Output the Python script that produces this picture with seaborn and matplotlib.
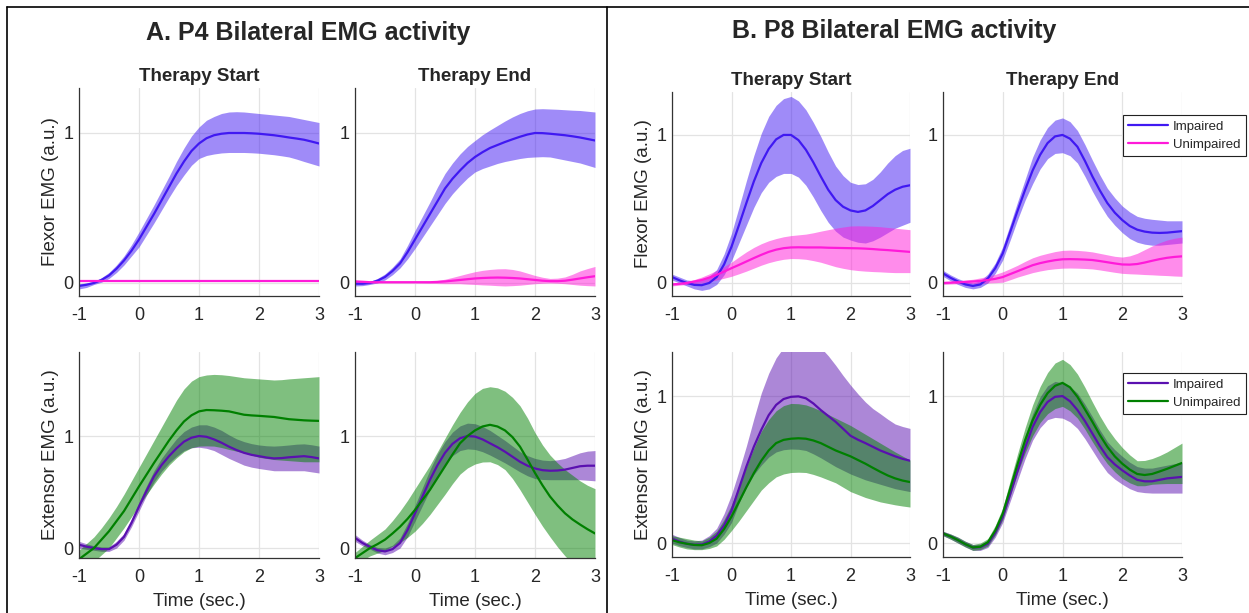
import numpy as np
import matplotlib
matplotlib.use("Agg")
import matplotlib.pyplot as plt
from matplotlib.lines import Line2D
import seaborn as sns

# time axis (sec.), read every 0.125 s
t = [-1, -0.875, -0.75, -0.625, -0.5, -0.375, -0.25, -0.125, 0, 0.125, 0.25, 0.375, 0.5, 0.625, 0.75, 0.875,
     1, 1.125, 1.25, 1.375, 1.5, 1.625, 1.75, 1.875, 2, 2.125, 2.25, 2.375, 2.5, 2.625, 2.75, 2.875, 3]

# ---- P4 flexor, therapy start
p4_flex_start_imp = [-0.02, -0.012, 0.0, 0.02, 0.05, 0.095, 0.15, 0.215, 0.29, 0.375, 0.46, 0.55, 0.64, 0.73, 0.81, 0.88, 0.93, 0.965, 0.985, 0.995, 1.0, 1.0, 1.0, 0.998, 0.995, 0.99, 0.985, 0.978, 0.97, 0.963, 0.955, 0.943, 0.93]
p4_flex_start_imp_lo = [-0.04, -0.03, -0.01, 0.005, 0.03, 0.07, 0.12, 0.18, 0.24, 0.32, 0.40, 0.485, 0.57, 0.65, 0.72, 0.785, 0.83, 0.85, 0.86, 0.867, 0.87, 0.87, 0.87, 0.868, 0.865, 0.86, 0.855, 0.848, 0.84, 0.826, 0.81, 0.795, 0.78]
p4_flex_start_imp_hi = [-0.005, 0.0, 0.01, 0.035, 0.07, 0.12, 0.18, 0.255, 0.34, 0.43, 0.52, 0.615, 0.71, 0.81, 0.90, 0.98, 1.04, 1.085, 1.11, 1.13, 1.14, 1.142, 1.14, 1.135, 1.13, 1.125, 1.12, 1.115, 1.11, 1.10, 1.09, 1.08, 1.07]
p4_flex_start_uni = [0.01, 0.01, 0.01, 0.01, 0.01, 0.01, 0.01, 0.01, 0.01, 0.01, 0.01, 0.01, 0.01, 0.01, 0.01, 0.01, 0.01, 0.01, 0.01, 0.01, 0.01, 0.01, 0.01, 0.01, 0.01, 0.01, 0.01, 0.01, 0.01, 0.01, 0.01, 0.01, 0.01]
p4_flex_start_uni_lo = [0.006, 0.006, 0.006, 0.006, 0.006, 0.006, 0.006, 0.006, 0.006, 0.006, 0.006, 0.006, 0.006, 0.006, 0.006, 0.006, 0.006, 0.006, 0.006, 0.006, 0.006, 0.006, 0.006, 0.006, 0.006, 0.006, 0.006, 0.006, 0.006, 0.006, 0.006, 0.006, 0.006]
p4_flex_start_uni_hi = [0.014, 0.014, 0.014, 0.014, 0.014, 0.014, 0.014, 0.014, 0.014, 0.014, 0.014, 0.014, 0.014, 0.014, 0.014, 0.014, 0.014, 0.014, 0.014, 0.014, 0.014, 0.014, 0.014, 0.014, 0.014, 0.014, 0.014, 0.014, 0.014, 0.014, 0.014, 0.014, 0.014]

# ---- P4 flexor, therapy end
p4_flex_end_imp = [-0.005, -0.005, 0.0, 0.015, 0.04, 0.08, 0.13, 0.205, 0.29, 0.375, 0.46, 0.545, 0.63, 0.695, 0.75, 0.80, 0.84, 0.872, 0.90, 0.92, 0.94, 0.958, 0.975, 0.99, 1.0, 0.999, 0.995, 0.99, 0.985, 0.978, 0.97, 0.96, 0.95]
p4_flex_end_imp_lo = [-0.02, -0.018, -0.01, 0.0, 0.02, 0.055, 0.10, 0.16, 0.23, 0.305, 0.38, 0.455, 0.53, 0.595, 0.65, 0.70, 0.74, 0.763, 0.78, 0.797, 0.81, 0.82, 0.83, 0.837, 0.84, 0.842, 0.84, 0.83, 0.82, 0.81, 0.80, 0.785, 0.77]
p4_flex_end_imp_hi = [0.01, 0.008, 0.01, 0.03, 0.06, 0.105, 0.16, 0.25, 0.35, 0.445, 0.54, 0.64, 0.73, 0.80, 0.86, 0.91, 0.95, 0.988, 1.02, 1.05, 1.08, 1.107, 1.13, 1.148, 1.16, 1.162, 1.16, 1.158, 1.155, 1.152, 1.15, 1.145, 1.14]
p4_flex_end_uni = [0.01, 0.008, 0.005, 0.005, 0.005, 0.005, 0.005, 0.005, 0.005, 0.005, 0.005, 0.007, 0.01, 0.015, 0.02, 0.025, 0.03, 0.033, 0.035, 0.036, 0.035, 0.033, 0.03, 0.025, 0.02, 0.015, 0.012, 0.012, 0.015, 0.022, 0.03, 0.038, 0.045]
p4_flex_end_uni_lo = [0.0, 0.0, 0.0, 0.0, 0.0, 0.0, 0.0, 0.0, 0.0, -0.001, -0.002, -0.004, -0.005, -0.005, -0.005, -0.008, -0.01, -0.013, -0.015, -0.018, -0.02, -0.018, -0.015, -0.01, -0.005, -0.002, 0.0, -0.002, -0.005, -0.01, -0.015, -0.018, -0.02]
p4_flex_end_uni_hi = [0.02, 0.015, 0.01, 0.01, 0.01, 0.01, 0.01, 0.01, 0.01, 0.011, 0.012, 0.017, 0.025, 0.037, 0.05, 0.063, 0.075, 0.084, 0.09, 0.094, 0.095, 0.09, 0.08, 0.065, 0.05, 0.038, 0.03, 0.032, 0.04, 0.058, 0.08, 0.096, 0.11]

# ---- P4 extensor, therapy start
p4_ext_start_imp = [0.03, 0.012, 0.0, -0.01, -0.01, 0.03, 0.10, 0.225, 0.37, 0.51, 0.64, 0.74, 0.82, 0.89, 0.95, 0.985, 1.0, 0.993, 0.97, 0.94, 0.905, 0.875, 0.85, 0.832, 0.82, 0.808, 0.80, 0.803, 0.81, 0.815, 0.82, 0.812, 0.80]
p4_ext_start_imp_lo = [0.0, -0.012, -0.02, -0.03, -0.03, 0.0, 0.07, 0.19, 0.33, 0.47, 0.59, 0.685, 0.76, 0.82, 0.87, 0.895, 0.90, 0.89, 0.87, 0.835, 0.80, 0.77, 0.74, 0.722, 0.71, 0.70, 0.69, 0.69, 0.69, 0.69, 0.69, 0.68, 0.67]
p4_ext_start_imp_hi = [0.06, 0.038, 0.02, 0.01, 0.01, 0.06, 0.13, 0.26, 0.41, 0.555, 0.69, 0.80, 0.89, 0.975, 1.04, 1.08, 1.10, 1.10, 1.08, 1.05, 1.01, 0.975, 0.95, 0.932, 0.92, 0.913, 0.91, 0.914, 0.92, 0.927, 0.93, 0.922, 0.91]
p4_ext_start_uni = [-0.10, -0.05, 0.0, 0.075, 0.15, 0.24, 0.33, 0.44, 0.55, 0.655, 0.76, 0.86, 0.96, 1.05, 1.13, 1.185, 1.22, 1.232, 1.23, 1.226, 1.22, 1.205, 1.19, 1.184, 1.18, 1.175, 1.17, 1.16, 1.15, 1.145, 1.14, 1.137, 1.135]
p4_ext_start_uni_lo = [-0.25, -0.185, -0.12, -0.06, 0.0, 0.09, 0.18, 0.28, 0.38, 0.475, 0.57, 0.66, 0.74, 0.805, 0.86, 0.895, 0.91, 0.912, 0.91, 0.897, 0.88, 0.865, 0.85, 0.83, 0.81, 0.80, 0.79, 0.785, 0.78, 0.775, 0.77, 0.77, 0.77]
p4_ext_start_uni_hi = [-0.02, 0.04, 0.10, 0.18, 0.27, 0.37, 0.48, 0.60, 0.72, 0.84, 0.96, 1.08, 1.20, 1.32, 1.42, 1.49, 1.53, 1.545, 1.55, 1.547, 1.54, 1.53, 1.52, 1.515, 1.51, 1.505, 1.50, 1.503, 1.51, 1.515, 1.52, 1.525, 1.53]

# ---- P4 extensor, therapy end
p4_ext_end_imp = [0.09, 0.045, 0.01, -0.02, -0.03, -0.01, 0.045, 0.16, 0.31, 0.46, 0.61, 0.74, 0.85, 0.93, 0.98, 1.0, 0.995, 0.97, 0.935, 0.9, 0.86, 0.815, 0.77, 0.735, 0.71, 0.695, 0.69, 0.692, 0.70, 0.715, 0.73, 0.735, 0.735]
p4_ext_end_imp_lo = [0.06, 0.02, -0.01, -0.045, -0.06, -0.04, 0.0, 0.1, 0.24, 0.38, 0.52, 0.645, 0.75, 0.825, 0.87, 0.885, 0.88, 0.86, 0.83, 0.795, 0.76, 0.72, 0.68, 0.645, 0.62, 0.612, 0.61, 0.61, 0.61, 0.61, 0.61, 0.605, 0.60]
p4_ext_end_imp_hi = [0.12, 0.07, 0.03, 0.005, 0.0, 0.025, 0.09, 0.22, 0.38, 0.54, 0.70, 0.84, 0.95, 1.035, 1.09, 1.115, 1.11, 1.085, 1.05, 1.005, 0.96, 0.91, 0.86, 0.825, 0.80, 0.785, 0.78, 0.787, 0.80, 0.825, 0.85, 0.865, 0.87]
p4_ext_end_uni = [-0.09, -0.045, 0.0, 0.035, 0.075, 0.13, 0.19, 0.26, 0.34, 0.43, 0.52, 0.625, 0.73, 0.835, 0.935, 1.0, 1.05, 1.085, 1.10, 1.085, 1.05, 0.99, 0.905, 0.79, 0.67, 0.56, 0.46, 0.38, 0.31, 0.255, 0.21, 0.168, 0.13]
p4_ext_end_uni_lo = [-0.15, -0.11, -0.07, -0.045, -0.02, 0.015, 0.05, 0.095, 0.15, 0.22, 0.30, 0.39, 0.48, 0.575, 0.66, 0.715, 0.75, 0.768, 0.77, 0.745, 0.70, 0.62, 0.52, 0.41, 0.30, 0.195, 0.10, 0.01, -0.07, -0.14, -0.20, -0.25, -0.30]
p4_ext_end_uni_hi = [-0.04, 0.015, 0.07, 0.12, 0.17, 0.245, 0.33, 0.425, 0.53, 0.635, 0.74, 0.86, 0.98, 1.10, 1.21, 1.305, 1.38, 1.425, 1.44, 1.43, 1.40, 1.345, 1.27, 1.16, 1.03, 0.92, 0.83, 0.76, 0.70, 0.65, 0.60, 0.56, 0.53]

# ---- P8 flexor, therapy start
p8_flex_start_imp = [0.04, 0.018, 0.0, -0.013, -0.015, 0.0, 0.04, 0.125, 0.245, 0.39, 0.54, 0.685, 0.81, 0.905, 0.97, 1.0, 1.0, 0.965, 0.90, 0.815, 0.72, 0.63, 0.56, 0.515, 0.49, 0.48, 0.49, 0.52, 0.56, 0.6, 0.63, 0.65, 0.66]
p8_flex_start_imp_lo = [0.02, 0.0, -0.02, -0.04, -0.05, -0.04, -0.01, 0.055, 0.15, 0.27, 0.39, 0.51, 0.61, 0.68, 0.72, 0.74, 0.74, 0.715, 0.66, 0.58, 0.49, 0.41, 0.35, 0.31, 0.29, 0.275, 0.27, 0.285, 0.31, 0.34, 0.37, 0.39, 0.41]
p8_flex_start_imp_hi = [0.06, 0.04, 0.02, 0.015, 0.02, 0.045, 0.09, 0.195, 0.335, 0.51, 0.69, 0.86, 1.01, 1.125, 1.20, 1.245, 1.26, 1.23, 1.17, 1.085, 0.99, 0.885, 0.79, 0.725, 0.68, 0.665, 0.67, 0.70, 0.75, 0.81, 0.86, 0.895, 0.91]
p8_flex_start_uni = [-0.01, -0.006, 0.0, 0.01, 0.02, 0.036, 0.055, 0.077, 0.10, 0.122, 0.145, 0.168, 0.19, 0.21, 0.225, 0.235, 0.24, 0.241, 0.24, 0.24, 0.24, 0.238, 0.237, 0.236, 0.235, 0.234, 0.232, 0.229, 0.225, 0.222, 0.218, 0.214, 0.21]
p8_flex_start_uni_lo = [-0.02, -0.015, -0.01, -0.005, 0.0, 0.01, 0.02, 0.032, 0.045, 0.062, 0.08, 0.1, 0.12, 0.137, 0.15, 0.16, 0.165, 0.164, 0.16, 0.151, 0.14, 0.125, 0.11, 0.099, 0.09, 0.084, 0.08, 0.077, 0.075, 0.072, 0.07, 0.07, 0.07]
p8_flex_start_uni_hi = [0.0, 0.004, 0.01, 0.023, 0.04, 0.061, 0.085, 0.111, 0.14, 0.176, 0.21, 0.24, 0.265, 0.285, 0.30, 0.312, 0.32, 0.325, 0.33, 0.339, 0.35, 0.36, 0.37, 0.378, 0.385, 0.386, 0.385, 0.383, 0.38, 0.375, 0.37, 0.365, 0.36]

# ---- P8 flexor, therapy end
p8_flex_end_imp = [0.065, 0.035, 0.01, -0.01, -0.02, -0.01, 0.03, 0.1, 0.20, 0.345, 0.49, 0.63, 0.76, 0.865, 0.945, 0.99, 1.0, 0.975, 0.92, 0.825, 0.72, 0.625, 0.54, 0.475, 0.425, 0.385, 0.36, 0.347, 0.34, 0.338, 0.34, 0.345, 0.35]
p8_flex_end_imp_lo = [0.045, 0.015, -0.01, -0.03, -0.04, -0.03, 0.0, 0.065, 0.155, 0.29, 0.43, 0.56, 0.67, 0.77, 0.84, 0.875, 0.88, 0.86, 0.81, 0.72, 0.62, 0.53, 0.45, 0.39, 0.34, 0.3, 0.275, 0.262, 0.255, 0.255, 0.26, 0.265, 0.27]
p8_flex_end_imp_hi = [0.085, 0.055, 0.03, 0.01, 0.0, 0.015, 0.06, 0.135, 0.245, 0.395, 0.55, 0.70, 0.85, 0.965, 1.05, 1.1, 1.115, 1.09, 1.03, 0.935, 0.83, 0.73, 0.64, 0.575, 0.52, 0.48, 0.45, 0.437, 0.43, 0.425, 0.42, 0.42, 0.42]
p8_flex_end_uni = [0.0, 0.002, 0.005, 0.007, 0.01, 0.014, 0.02, 0.028, 0.04, 0.06, 0.08, 0.1, 0.12, 0.134, 0.145, 0.154, 0.16, 0.161, 0.16, 0.158, 0.155, 0.148, 0.14, 0.132, 0.125, 0.124, 0.128, 0.138, 0.15, 0.161, 0.17, 0.176, 0.18]
p8_flex_end_uni_lo = [-0.01, -0.007, -0.005, -0.005, -0.005, -0.003, 0.0, 0.002, 0.005, 0.022, 0.04, 0.055, 0.07, 0.081, 0.09, 0.096, 0.10, 0.101, 0.10, 0.098, 0.095, 0.088, 0.08, 0.072, 0.065, 0.062, 0.06, 0.057, 0.055, 0.052, 0.05, 0.047, 0.045]
p8_flex_end_uni_hi = [0.01, 0.012, 0.015, 0.02, 0.025, 0.034, 0.045, 0.058, 0.075, 0.097, 0.12, 0.146, 0.17, 0.187, 0.20, 0.212, 0.22, 0.222, 0.22, 0.216, 0.21, 0.20, 0.19, 0.18, 0.175, 0.183, 0.20, 0.225, 0.25, 0.272, 0.29, 0.302, 0.31]

# ---- P8 extensor, therapy start
p8_ext_start_imp = [0.03, 0.01, -0.005, -0.012, -0.01, 0.01, 0.05, 0.12, 0.22, 0.37, 0.52, 0.655, 0.77, 0.87, 0.94, 0.98, 0.995, 0.998, 0.985, 0.95, 0.905, 0.865, 0.825, 0.778, 0.73, 0.703, 0.68, 0.655, 0.63, 0.61, 0.59, 0.573, 0.56]
p8_ext_start_imp_lo = [0.0, -0.018, -0.03, -0.04, -0.04, -0.025, 0.0, 0.06, 0.14, 0.27, 0.38, 0.465, 0.53, 0.585, 0.62, 0.635, 0.64, 0.638, 0.63, 0.607, 0.58, 0.55, 0.52, 0.495, 0.47, 0.45, 0.43, 0.415, 0.40, 0.385, 0.37, 0.36, 0.35]
p8_ext_start_imp_hi = [0.06, 0.038, 0.02, 0.015, 0.02, 0.05, 0.10, 0.2, 0.33, 0.49, 0.66, 0.845, 1.02, 1.155, 1.26, 1.33, 1.37, 1.39, 1.40, 1.375, 1.33, 1.275, 1.21, 1.14, 1.075, 1.015, 0.96, 0.915, 0.88, 0.843, 0.81, 0.793, 0.78]
p8_ext_start_uni = [0.02, 0.005, -0.005, -0.013, -0.015, 0.0, 0.03, 0.095, 0.18, 0.28, 0.38, 0.475, 0.56, 0.63, 0.68, 0.702, 0.71, 0.713, 0.71, 0.698, 0.68, 0.655, 0.63, 0.61, 0.59, 0.565, 0.54, 0.512, 0.485, 0.46, 0.44, 0.425, 0.415]
p8_ext_start_uni_lo = [-0.01, -0.027, -0.04, -0.045, -0.045, -0.037, -0.02, 0.025, 0.085, 0.15, 0.22, 0.29, 0.36, 0.41, 0.45, 0.47, 0.48, 0.482, 0.48, 0.467, 0.45, 0.43, 0.41, 0.38, 0.35, 0.33, 0.31, 0.295, 0.28, 0.27, 0.26, 0.252, 0.245]
p8_ext_start_uni_hi = [0.05, 0.04, 0.03, 0.02, 0.015, 0.04, 0.08, 0.16, 0.26, 0.39, 0.52, 0.645, 0.76, 0.84, 0.90, 0.935, 0.95, 0.948, 0.94, 0.922, 0.90, 0.875, 0.85, 0.825, 0.80, 0.77, 0.74, 0.71, 0.68, 0.65, 0.62, 0.592, 0.565]

# ---- P8 extensor, therapy end
p8_ext_end_imp = [0.065, 0.045, 0.02, -0.008, -0.03, -0.028, -0.005, 0.07, 0.18, 0.335, 0.495, 0.65, 0.79, 0.89, 0.96, 0.995, 1.0, 0.965, 0.905, 0.83, 0.745, 0.66, 0.585, 0.535, 0.495, 0.46, 0.43, 0.42, 0.42, 0.43, 0.44, 0.445, 0.45]
p8_ext_end_imp_lo = [0.05, 0.027, 0.0, -0.027, -0.05, -0.05, -0.03, 0.04, 0.14, 0.285, 0.43, 0.575, 0.70, 0.785, 0.84, 0.855, 0.85, 0.825, 0.78, 0.71, 0.63, 0.55, 0.48, 0.435, 0.40, 0.37, 0.35, 0.343, 0.34, 0.34, 0.34, 0.34, 0.34]
p8_ext_end_imp_hi = [0.08, 0.062, 0.04, 0.012, -0.01, -0.008, 0.02, 0.1, 0.22, 0.385, 0.56, 0.73, 0.88, 0.995, 1.07, 1.1, 1.09, 1.065, 1.02, 0.945, 0.86, 0.77, 0.69, 0.635, 0.59, 0.55, 0.52, 0.51, 0.51, 0.52, 0.53, 0.54, 0.55]
p8_ext_end_uni = [0.065, 0.045, 0.02, -0.008, -0.03, -0.025, 0.005, 0.085, 0.20, 0.37, 0.54, 0.70, 0.835, 0.94, 1.02, 1.07, 1.09, 1.06, 0.995, 0.91, 0.825, 0.735, 0.655, 0.59, 0.54, 0.5, 0.47, 0.463, 0.47, 0.487, 0.505, 0.525, 0.545]
p8_ext_end_uni_lo = [0.05, 0.027, 0.0, -0.027, -0.05, -0.045, -0.02, 0.055, 0.16, 0.32, 0.48, 0.615, 0.73, 0.82, 0.88, 0.915, 0.93, 0.9, 0.85, 0.775, 0.69, 0.61, 0.54, 0.485, 0.44, 0.41, 0.39, 0.39, 0.40, 0.403, 0.405, 0.405, 0.405]
p8_ext_end_uni_hi = [0.08, 0.062, 0.04, 0.012, -0.01, 0.0, 0.03, 0.12, 0.24, 0.425, 0.61, 0.785, 0.94, 1.065, 1.16, 1.225, 1.25, 1.215, 1.15, 1.06, 0.96, 0.865, 0.78, 0.71, 0.65, 0.6, 0.56, 0.562, 0.575, 0.595, 0.62, 0.65, 0.68]

legend_labels = ["Impaired", "Unimpaired"]
col_titles = ["Therapy Start", "Therapy End"]

c_flex_imp = "#4019f2"
c_flex_uni = "#ff1ad9"
c_ext_imp = "#5a10b0"
c_ext_uni = "#008000"

sns.set_theme(style="white")
plt.rcParams["font.family"] = ["Liberation Sans", "DejaVu Sans"]
plt.rcParams["axes.unicode_minus"] = False

W, H = 1249, 613
fig = plt.figure(figsize=(W / 100, H / 100), dpi=100)


def rect(x0, x1, y0, y1):
    # pixel box -> figure fraction
    return [x0 / W, 1 - y1 / H, (x1 - x0) / W, (y1 - y0) / H]


def band(ax, mean, lo, hi, color):
    ax.fill_between(t, lo, hi, color=color, alpha=0.5, lw=0)
    sns.lineplot(x=t, y=mean, ax=ax, color=color, lw=1.6)


def style(ax, ylim, ylabel=None, xlabel=False, title=None):
    ax.set_xlim(-1, 3)
    ax.set_ylim(*ylim)
    ax.set_xticks([-1, 0, 1, 2, 3])
    ax.set_yticks([0, 1])
    ax.grid(True, color="#e3e3e3", lw=0.9)
    ax.set_axisbelow(True)
    for s in ["top", "right"]:
        ax.spines[s].set_visible(False)
    for s in ["left", "bottom"]:
        ax.spines[s].set_color("#333333")
        ax.spines[s].set_linewidth(0.9)
    ax.tick_params(axis="both", direction="in", length=3, colors="#262626", labelsize=13)
    ax.tick_params(axis="x", pad=8)
    ax.tick_params(axis="y", pad=4)
    if ylabel:
        ax.set_ylabel(ylabel, fontsize=13.5, color="#262626", labelpad=3)
    if xlabel:
        ax.set_xlabel("Time (sec.)", fontsize=13.5, color="#262626", labelpad=5)
    if title:
        ax.set_title(title, fontsize=13.5, fontweight="bold", pad=5)


def legend(ax, colors, top_px):
    hl = [Line2D([], [], color=c, lw=1.6) for c in colors]
    leg = ax.legend(hl, legend_labels, loc="upper left", bbox_to_anchor=(1123 / W, 1 - top_px / H),
                    bbox_transform=fig.transFigure, fontsize=9.5, fancybox=False, framealpha=1,
                    edgecolor="#222222", handlelength=3.0, borderpad=0.4, labelspacing=0.45,
                    handletextpad=0.4, borderaxespad=0)
    leg.get_frame().set_linewidth(0.8)


# panel A (P4)
ax = fig.add_axes(rect(79, 319, 88, 296))
band(ax, p4_flex_start_imp, p4_flex_start_imp_lo, p4_flex_start_imp_hi, c_flex_imp)
band(ax, p4_flex_start_uni, p4_flex_start_uni_lo, p4_flex_start_uni_hi, c_flex_uni)
style(ax, (-0.087, 1.30), "Flexor EMG (a.u.)", title=col_titles[0])

ax = fig.add_axes(rect(355, 595, 88, 296))
band(ax, p4_flex_end_imp, p4_flex_end_imp_lo, p4_flex_end_imp_hi, c_flex_imp)
band(ax, p4_flex_end_uni, p4_flex_end_uni_lo, p4_flex_end_uni_hi, c_flex_uni)
style(ax, (-0.087, 1.30), title=col_titles[1])

ax = fig.add_axes(rect(79, 319, 352, 558))
band(ax, p4_ext_start_imp, p4_ext_start_imp_lo, p4_ext_start_imp_hi, c_ext_imp)
band(ax, p4_ext_start_uni, p4_ext_start_uni_lo, p4_ext_start_uni_hi, c_ext_uni)
style(ax, (-0.089, 1.75), "Extensor EMG (a.u.)", xlabel=True)

ax = fig.add_axes(rect(355, 595, 352, 558))
band(ax, p4_ext_end_imp, p4_ext_end_imp_lo, p4_ext_end_imp_hi, c_ext_imp)
band(ax, p4_ext_end_uni, p4_ext_end_uni_lo, p4_ext_end_uni_hi, c_ext_uni)
style(ax, (-0.089, 1.75), xlabel=True)

# panel B (P8)
ax = fig.add_axes(rect(672, 910, 92, 296))
band(ax, p8_flex_start_imp, p8_flex_start_imp_lo, p8_flex_start_imp_hi, c_flex_imp)
band(ax, p8_flex_start_uni, p8_flex_start_uni_lo, p8_flex_start_uni_hi, c_flex_uni)
style(ax, (-0.088, 1.29), "Flexor EMG (a.u.)", title=col_titles[0])

ax = fig.add_axes(rect(943, 1182, 92, 296))
band(ax, p8_flex_end_imp, p8_flex_end_imp_lo, p8_flex_end_imp_hi, c_flex_imp)
band(ax, p8_flex_end_uni, p8_flex_end_uni_lo, p8_flex_end_uni_hi, c_flex_uni)
style(ax, (-0.088, 1.29), title=col_titles[1])
legend(ax, [c_flex_imp, c_flex_uni], 115)

ax = fig.add_axes(rect(672, 910, 352, 557))
band(ax, p8_ext_start_imp, p8_ext_start_imp_lo, p8_ext_start_imp_hi, c_ext_imp)
band(ax, p8_ext_start_uni, p8_ext_start_uni_lo, p8_ext_start_uni_hi, c_ext_uni)
style(ax, (-0.095, 1.30), "Extensor EMG (a.u.)", xlabel=True)

ax = fig.add_axes(rect(943, 1182, 352, 557))
band(ax, p8_ext_end_imp, p8_ext_end_imp_lo, p8_ext_end_imp_hi, c_ext_imp)
band(ax, p8_ext_end_uni, p8_ext_end_uni_lo, p8_ext_end_uni_hi, c_ext_uni)
style(ax, (-0.095, 1.30), xlabel=True)
legend(ax, [c_ext_imp, c_ext_uni], 373)

# panel headings and frames
fig.text(308 / W, 1 - 33 / H, "A. P4 Bilateral EMG activity", ha="center", va="center",
         fontsize=18, fontweight="bold")
fig.text(894 / W, 1 - 31 / H, "B. P8 Bilateral EMG activity", ha="center", va="center",
         fontsize=18, fontweight="bold")
fig.add_artist(Line2D([7 / W, 7 / W], [0, 1 - 7 / H], color="black", lw=1.2))
fig.add_artist(Line2D([607 / W, 607 / W], [0, 1 - 7 / H], color="black", lw=1.2))
fig.add_artist(Line2D([7 / W, 1], [1 - 7 / H, 1 - 7 / H], color="black", lw=1.2))

fig.savefig("out.png", dpi=100)
